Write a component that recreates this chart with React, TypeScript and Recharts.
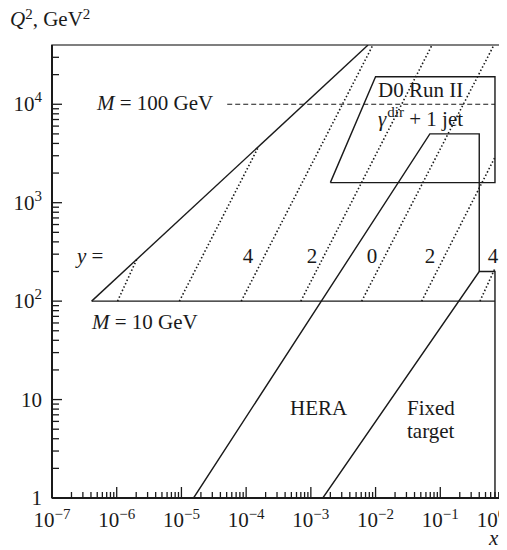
import React from 'react';
import { ComposedChart, Line, XAxis, YAxis, ReferenceArea } from 'recharts';

// Axis ranges (x: Bjorken x, y: Q^2 in GeV^2)
const X_DOMAIN = [1e-7, 1];
const Y_DOMAIN = [1, 40000];
const X_MAJOR = [1e-7, 1e-6, 1e-5, 1e-4, 1e-3, 1e-2, 1e-1, 1];
const Y_MAJOR = [1, 10, 100, 1000, 10000];
const X_LABELS = ['−7', '−6', '−5', '−4', '−3', '−2', '−1', '0'];
const Y_LABELS = ['', '', '2', '3', '4'];

// kinematic boundary of the DY / photon region (upper-left solid line)
const upperLimit = [
  { x: 4.1e-7, q2: 100 },
  { x: 7.65e-3, q2: 40000 },
];
// M = 10 GeV
const m10Line = [
  { x: 4.1e-7, q2: 100 },
  { x: 0.7, q2: 100 },
];
// M = 100 GeV (dashed)
const m100Line = [
  { x: 5.1e-5, q2: 10000 },
  { x: 0.7, q2: 10000 },
];
// D0 Run II, gamma + jet
const d0Region = [
  { x: 0.002, q2: 1600 },
  { x: 0.01, q2: 19000 },
  { x: 0.7, q2: 19000 },
  { x: 0.7, q2: 1600 },
  { x: 0.002, q2: 1600 },
];
const heraRegion = [
  { x: 1.54e-5, q2: 1 },
  { x: 0.069, q2: 5000 },
  { x: 0.4, q2: 5000 },
  { x: 0.4, q2: 200 },
];
const fixedTargetRegion = [
  { x: 1.53e-3, q2: 1 },
  { x: 0.4, q2: 200 },
  { x: 0.7, q2: 200 },
  { x: 0.7, q2: 1 },
];
// constant rapidity lines (dotted)
const rapidity1 = [{ x: 1.03e-6, q2: 100 }, { x: 2.08e-6, q2: 273 }];
const rapidity2 = [{ x: 9.3e-6, q2: 100 }, { x: 1.54e-4, q2: 3660 }];
const rapidity3 = [{ x: 8.4e-5, q2: 100 }, { x: 9.1e-3, q2: 40000 }];
const rapidity4 = [{ x: 7.0e-4, q2: 100 }, { x: 0.0745, q2: 40000 }];
const rapidity5 = [{ x: 6.1e-3, q2: 100 }, { x: 0.675, q2: 40000 }];
const rapidity6 = [{ x: 0.0516, q2: 100 }, { x: 0.7, q2: 2900 }];
const rapidity7 = [{ x: 0.41, q2: 100 }, { x: 0.7, q2: 215 }];
const rapidityLines = [rapidity1, rapidity2, rapidity3, rapidity4, rapidity5, rapidity6, rapidity7];

// major decades plus 2..9 minor ticks
const withMinors = (majors: number[]) => {
  const out: number[] = [];
  majors.forEach((m, i) => {
    out.push(m);
    if (i < majors.length - 1) for (let k = 2; k <= 9; k++) out.push(m * k);
  });
  return out;
};
const X_TICKS = withMinors(X_MAJOR);
const Y_TICKS = [...withMinors(Y_MAJOR), 20000, 30000];

const W = 499;
const H = 542;
const PLOT_LEFT = 44;
const PLOT_BOTTOM = 490;
const INK = '#1a1a1a';
const FONT = '"Liberation Serif", "DejaVu Serif", serif';

const isMajor = (v: number) => Math.abs(Math.log10(v) - Math.round(Math.log10(v))) < 1e-9;

const XTick = (props: any) => {
  const { x, payload } = props;
  const v = payload.value;
  const major = isMajor(v);
  const idx = X_MAJOR.findIndex((m) => Math.abs(m - v) / m < 1e-9);
  const last = idx === X_MAJOR.length - 1;
  return (
    <g>
      <line x1={x} x2={x} y1={PLOT_BOTTOM} y2={PLOT_BOTTOM - (major ? 11 : 6)} stroke={INK} strokeWidth={1.3} />
      {major && idx >= 0 && (
        <text x={last ? x - 14 : x} y={519} textAnchor="middle" fontFamily={FONT} fontSize={21} fill={INK}>
          10
          <tspan dy={-8} fontSize={15}>{X_LABELS[idx]}</tspan>
        </text>
      )}
    </g>
  );
};

const YTick = (props: any) => {
  const { y, payload } = props;
  const v = payload.value;
  const major = isMajor(v);
  const idx = Y_MAJOR.findIndex((m) => Math.abs(m - v) / m < 1e-9);
  return (
    <g>
      <line x1={PLOT_LEFT} x2={PLOT_LEFT + (major ? 10 : 7)} y1={y} y2={y} stroke={INK} strokeWidth={1.3} />
      {major && idx >= 0 && (
        <text x={34} y={y + 7} textAnchor="end" fontFamily={FONT} fontSize={21} fill={INK}>
          {v === 1 ? '1' : '10'}
          {Y_LABELS[idx] && (
            <tspan dy={-9} fontSize={15}>{Y_LABELS[idx]}</tspan>
          )}
        </text>
      )}
    </g>
  );
};

export default function App() {
  const solid = { stroke: INK, strokeWidth: 1.4, dot: false, activeDot: false, isAnimationActive: false, type: 'linear' as const, dataKey: 'q2' };
  return (
    <div style={{ position: 'relative', width: W, height: H }}>
      <ComposedChart width={W} height={H} margin={{ top: 37, right: 2, bottom: 0, left: 0 }}>
        <XAxis
          dataKey="x"
          type="number"
          scale="log"
          domain={X_DOMAIN}
          allowDataOverflow
          ticks={X_TICKS}
          interval={0}
          tick={<XTick />}
          tickLine={false}
          height={52}
          axisLine={{ stroke: INK, strokeWidth: 2 }}
        />
        <YAxis
          type="number"
          scale="log"
          domain={Y_DOMAIN}
          allowDataOverflow
          ticks={Y_TICKS}
          interval={0}
          tick={<YTick />}
          tickLine={false}
          width={PLOT_LEFT}
          axisLine={{ stroke: INK, strokeWidth: 2 }}
        />
        <ReferenceArea x1={X_DOMAIN[0]} x2={X_DOMAIN[1]} y1={Y_DOMAIN[0]} y2={Y_DOMAIN[1]} fill="none" stroke="#555" strokeWidth={1.5} />
        <Line {...solid} data={upperLimit} />
        <Line {...solid} data={m10Line} />
        <Line {...solid} data={m100Line} strokeDasharray="5 3" strokeWidth={1.2} />
        <Line {...solid} data={d0Region} />
        <Line {...solid} data={heraRegion} />
        <Line {...solid} data={fixedTargetRegion} />
        {rapidityLines.map((d, i) => (
          <Line key={`rap-${i}`} {...solid} data={d} strokeDasharray="1.5 2.2" strokeWidth={1.6} />
        ))}
      </ComposedChart>

      <svg width={W} height={H} style={{ position: 'absolute', left: 0, top: 0, pointerEvents: 'none', overflow: 'visible' }} fontFamily={FONT} fill={INK}>
        <text x={2} y={18} fontSize={21}>
          <tspan fontStyle="italic">Q</tspan>
          <tspan dy={-7} fontSize={15}>2</tspan>
          <tspan dy={7}>, GeV</tspan>
          <tspan dy={-7} fontSize={15}>2</tspan>
        </text>
        <text x={89} y={102} fontSize={21}>
          <tspan fontStyle="italic">M</tspan> = 100 GeV
        </text>
        <text x={84} y={321} fontSize={21}>
          <tspan fontStyle="italic">M</tspan> = 10 GeV
        </text>
        <text x={69} y={255} fontSize={21}>
          <tspan fontStyle="italic">y</tspan> =
        </text>
        <text x={240} y={255} fontSize={21} textAnchor="middle">4</text>
        <text x={304} y={255} fontSize={21} textAnchor="middle">2</text>
        <text x={364} y={255} fontSize={21} textAnchor="middle">0</text>
        <text x={422} y={255} fontSize={21} textAnchor="middle">2</text>
        <text x={485} y={255} fontSize={21} textAnchor="middle">4</text>
        <text x={370} y={89} fontSize={21}>D0 Run II</text>
        <text x={370} y={118} fontSize={21}>
          <tspan fontStyle="italic">γ</tspan>
          <tspan dx={1} dy={-9} fontSize={15}>dir</tspan>
          <tspan dy={9}> + 1 jet</tspan>
        </text>
        <text x={282} y={407} fontSize={21}>HERA</text>
        <text x={399} y={407} fontSize={21}>Fixed</text>
        <text x={399} y={430} fontSize={21}>target</text>
        <text x={481} y={537} fontSize={21} fontStyle="italic">x</text>
      </svg>
    </div>
  );
}
